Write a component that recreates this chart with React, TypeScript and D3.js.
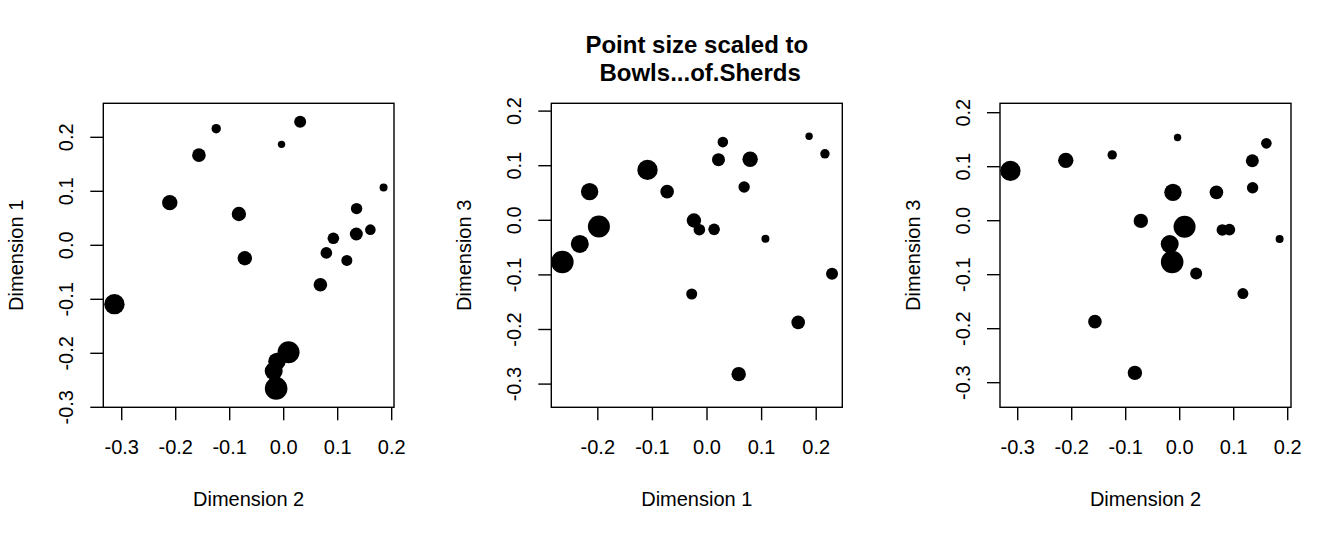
import React from "react";
import * as d3 from "d3";

// Data: MDS coordinates of each assemblage, point size = Bowls...of.Sherds
const dim1 = [-0.109, 0.216, 0.229, 0.187, 0.167, 0.079, 0.058, -0.024, 0.107, 0.068, 0.029, 0.021, 0.013, -0.014, -0.028, -0.073, -0.198, -0.215, -0.233, -0.265];
const dim2 = [-0.3135, -0.125, 0.0305, -0.004, -0.157, -0.211, -0.083, -0.072, 0.185, 0.135, 0.1605, 0.1345, 0.092, 0.079, 0.117, 0.068, 0.009, -0.0125, -0.0185, -0.014];
const dim3 = [0.0923, 0.1218, -0.098, 0.154, -0.187, 0.1117, -0.2818, -0.0004, -0.034, 0.061, 0.1432, 0.111, -0.0166, -0.0172, -0.135, 0.0525, -0.0113, 0.0525, -0.0432, -0.0765];
const bowls = [102, 47, 60, 37, 68, 77, 72, 72, 40, 57, 53, 65, 58, 58, 55, 68, 110, 87, 90, 113];

const ticksA = [-0.3, -0.2, -0.1, 0.0, 0.1, 0.2];
const ticksB = [-0.2, -0.1, 0.0, 0.1, 0.2];

const titleLines = ["Point size scaled to", " Bowls...of.Sherds"];

const W = 1344;
const H = 537;
const TOP = 103.3;
const BOTTOM = 407.3;
const FONT = "'Liberation Sans', Arial, Helvetica, sans-serif";

type Panel = {
  xs: number[];
  ys: number[];
  xDomain: [number, number];
  yDomain: [number, number];
  left: number;
  right: number;
  xTicks: number[];
  yTicks: number[];
  xLabel: string;
  yLabel: string;
};

const panels: Panel[] = [
  { xs: dim2, ys: dim1, xDomain: [-0.3341, 0.2043], yDomain: [-0.3, 0.263], left: 103.3, right: 394, xTicks: ticksA, yTicks: ticksA, xLabel: "Dimension 2", yLabel: "Dimension 1" },
  { xs: dim1, ys: dim3, xDomain: [-0.2852, 0.2478], yDomain: [-0.3425, 0.2143], left: 551.3, right: 842.3, xTicks: ticksB, yTicks: ticksA, xLabel: "Dimension 1", yLabel: "Dimension 3" },
  { xs: dim2, ys: dim3, xDomain: [-0.3328, 0.2061], yDomain: [-0.3456, 0.2174], left: 1000, right: 1291, xTicks: ticksA, yTicks: ticksA, xLabel: "Dimension 2", yLabel: "Dimension 3" },
];

const rScale = d3.scaleLinear().domain([0, d3.max(bowls) as number]).range([0, 11.3]);

const fmt = (v: number) => (Math.abs(v) < 1e-9 ? "0.0" : v.toFixed(1));

function PanelView({ p }: { p: Panel }) {
  const x = d3.scaleLinear().domain(p.xDomain).range([p.left, p.right]);
  const y = d3.scaleLinear().domain(p.yDomain).range([BOTTOM, TOP]);
  const cx = (p.left + p.right) / 2;
  const cy = (TOP + BOTTOM) / 2;
  const tick = 13;
  return (
    <g>
      {p.xs.map((v, i) => (
        <circle key={i} cx={x(v)} cy={y(p.ys[i])} r={rScale(bowls[i])} fill="#000" />
      ))}
      <rect x={p.left} y={TOP} width={p.right - p.left} height={BOTTOM - TOP} fill="none" stroke="#000" strokeWidth={1.4} />
      {p.xTicks.map((t) => (
        <g key={"x" + t}>
          <line x1={x(t)} x2={x(t)} y1={BOTTOM} y2={BOTTOM + tick} stroke="#000" strokeWidth={1.4} />
          <text x={x(t)} y={454} textAnchor="middle" fontSize={20} fontFamily={FONT}>{fmt(t)}</text>
        </g>
      ))}
      {p.yTicks.map((t) => (
        <g key={"y" + t}>
          <line x1={p.left} x2={p.left - tick} y1={y(t)} y2={y(t)} stroke="#000" strokeWidth={1.4} />
          <text transform={`translate(${p.left - 30},${y(t)}) rotate(-90)`} textAnchor="middle" fontSize={20} fontFamily={FONT}>{fmt(t)}</text>
        </g>
      ))}
      <text x={cx} y={506} textAnchor="middle" fontSize={20} fontFamily={FONT}>{p.xLabel}</text>
      <text transform={`translate(${p.left - 80.5},${cy}) rotate(-90)`} textAnchor="middle" fontSize={20} fontFamily={FONT}>{p.yLabel}</text>
    </g>
  );
}

export default function App() {
  const mid = (panels[1].left + panels[1].right) / 2;
  return (
    <svg width={W} height={H} style={{ position: "absolute", left: 0, top: 0, background: "#fff" }}>
      <rect x={0} y={0} width={W} height={H} fill="#fff" />
      {titleLines.map((t, i) => (
        <text key={i} x={mid} y={53.3 + i * 28} textAnchor="middle" fontSize={24} fontWeight="bold" fontFamily={FONT} style={{ whiteSpace: "pre" }}>{t}</text>
      ))}
      {panels.map((p, i) => (
        <PanelView key={i} p={p} />
      ))}
    </svg>
  );
}
